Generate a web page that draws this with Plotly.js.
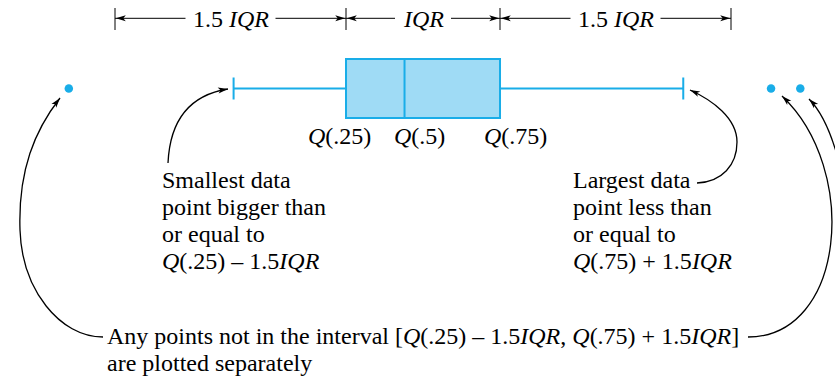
<!DOCTYPE html>
<html>
<head>
<meta charset="utf-8">
<script src="https://cdn.plot.ly/plotly-3.0.1.min.js"></script>
<style>
  html, body { margin: 0; padding: 0; background: #fff; }
  #chart { width: 835px; height: 382px; }
</style>
</head>
<body>
<div id="chart"></div>
<script>
// Anatomy of a box plot: quartiles, whisker ends and separately plotted points.

// ---- values ----
const quartileNames = ['<i>Q</i>(.25)', '<i>Q</i>(.5)', '<i>Q</i>(.75)'];
const quartiles = [20, 23.8, 30];          // Q(.25), Q(.5), Q(.75)
const whiskerEnds = [12.7, 41.9];          // smallest / largest point inside the fences
const outliers = [2.0, 47.6, 49.5];        // points outside the fences
const spanNames = ['1.5 <i>IQR</i>', '<i>IQR</i>', '1.5 <i>IQR</i>'];
const leftNote = ['Smallest data', 'point bigger than', 'or equal to',
                  '<i>Q</i>(.25) – 1.5<i>IQR</i>'];
const rightNote = ['Largest data', 'point less than', 'or equal to',
                   '<i>Q</i>(.75) + 1.5<i>IQR</i>'];
const bottomNote = ['Any points not in the interval [<i>Q</i>(.25) – 1.5<i>IQR</i>, <i>Q</i>(.75) + 1.5<i>IQR</i>]',
                    'are plotted separately'];

// ---- layout constants ----
const W = 835, H = 382;
const X_RANGE = [-2.468, 51.753];
const PX = W / (X_RANGE[1] - X_RANGE[0]);   // pixels per x unit
const ROW_Y = 88.5;                          // y axis runs in screen pixels, 0 at top
const BOX_H = 59;
const DIM_Y = 18.3;
const CYAN = '#19ade8', CYAN_FILL = '#9fdbf5', INK = '#000';
const FONT = { family: '"Liberation Serif", "Times New Roman", serif', size: 24, color: INK };

const iqr = quartiles[2] - quartiles[0];
const fences = [quartiles[0] - 1.5 * iqr, quartiles[0], quartiles[2], quartiles[2] + 1.5 * iqr];

// ---- helpers ----
// arrowhead path; s = pixels per unit of the x reference used
function head(tx, ty, dx, dy, s, len = 10, half = 3) {
  const n = Math.hypot(dx, dy); dx /= n; dy /= n;
  const px = tx * s;
  const bx = px - len * dx, by = ty - len * dy;
  const nx = -dy, ny = dx;
  const pts = [
    [px, ty],
    [bx + half * nx, by + half * ny],
    [bx + 0.25 * len * dx, by + 0.25 * len * dy],
    [bx - half * nx, by - half * ny]
  ];
  return 'M' + pts.map(p => (p[0] / s) + ',' + p[1]).join('L') + 'Z';
}
// cubic curve through pixel control points (M p0 C p1 p2 p3 C ...)
function curvePath(pts) {
  const f = p => (p[0] / W) + ',' + p[1];
  let d = 'M' + f(pts[0]);
  for (let i = 1; i < pts.length; i += 3) {
    d += 'C' + f(pts[i]) + ' ' + f(pts[i + 1]) + ' ' + f(pts[i + 2]);
  }
  return d;
}

const shapes = [];
const annotations = [];

// dimension line across the top
fences.forEach(f => shapes.push({
  type: 'line', xref: 'x', yref: 'y', x0: f, x1: f, y0: 8, y1: 30,
  line: { color: INK, width: 1 }
}));
const labelHalfPx = [45, 28, 45];
for (let i = 0; i < 3; i++) {
  const a = fences[i], b = fences[i + 1], mid = (a + b) / 2;
  const half = labelHalfPx[i] / PX;
  shapes.push({ type: 'line', xref: 'x', yref: 'y', x0: a, x1: mid - half, y0: DIM_Y, y1: DIM_Y,
                line: { color: INK, width: 1 } });
  shapes.push({ type: 'line', xref: 'x', yref: 'y', x0: mid + half, x1: b, y0: DIM_Y, y1: DIM_Y,
                line: { color: INK, width: 1 } });
  shapes.push({ type: 'path', xref: 'x', yref: 'y', path: head(a + 0.05, DIM_Y, -1, 0, PX),
                fillcolor: INK, line: { width: 0 } });
  shapes.push({ type: 'path', xref: 'x', yref: 'y', path: head(b - 0.05, DIM_Y, 1, 0, PX),
                fillcolor: INK, line: { width: 0 } });
  annotations.push({ xref: 'x', yref: 'y', x: mid, y: 19, text: spanNames[i],
                     showarrow: false, font: FONT, xanchor: 'center', yanchor: 'middle' });
}

// curved pointers (pixel control points)
const pointers = [
  [[103, 337], [60, 337], [22, 290], [20, 230], [18, 170], [35, 130], [60, 98]],
  [[168, 163], [170, 120], [190, 95], [228, 89]],
  [[697, 183], [722, 182], [737, 165], [737, 142], [737, 118], [712, 100], [690, 90]],
  [[748, 337], [845, 337], [860, 170], [782, 96]],
  [[850, 230], [845, 170], [830, 120], [809, 99]]
];
pointers.forEach(p => {
  shapes.push({ type: 'path', xref: 'paper', yref: 'y', path: curvePath(p),
                line: { color: INK, width: 1.3 } });
  const t = p[p.length - 1], c = p[p.length - 2];
  shapes.push({ type: 'path', xref: 'paper', yref: 'y',
                path: head(t[0] / W, t[1], t[0] - c[0], t[1] - c[1], W),
                fillcolor: INK, line: { width: 0 } });
});

// text blocks
const qLabelX = [339, 419, 515];
quartileNames.forEach((t, i) => annotations.push({
  xref: 'paper', yref: 'y', x: qLabelX[i] / W, y: 135.5, text: t,
  showarrow: false, font: FONT, xanchor: 'center', yanchor: 'middle'
}));
const noteLineY = [179.5, 206.7, 233.9, 261.1];
leftNote.forEach((t, i) => annotations.push({
  xref: 'paper', yref: 'y', x: 159.5 / W, y: noteLineY[i], text: t,
  showarrow: false, font: FONT, xanchor: 'left', yanchor: 'middle'
}));
rightNote.forEach((t, i) => annotations.push({
  xref: 'paper', yref: 'y', x: 571 / W, y: noteLineY[i], text: t,
  showarrow: false, font: FONT, xanchor: 'left', yanchor: 'middle'
}));
const bottomLineY = [335.5, 363];
bottomNote.forEach((t, i) => annotations.push({
  xref: 'paper', yref: 'y', x: 105 / W, y: bottomLineY[i], text: t,
  showarrow: false, font: FONT, xanchor: 'left', yanchor: 'middle'
}));

const traces = [
  {
    type: 'box', orientation: 'h', y: [ROW_Y],
    q1: [quartiles[0]], median: [quartiles[1]], q3: [quartiles[2]],
    lowerfence: [whiskerEnds[0]], upperfence: [whiskerEnds[1]],
    width: BOX_H, whiskerwidth: 0.37, boxpoints: false,
    fillcolor: CYAN_FILL, line: { color: CYAN, width: 2 },
    hoverinfo: 'skip', showlegend: false
  },
  {
    type: 'scatter', mode: 'markers', x: outliers, y: outliers.map(() => ROW_Y),
    marker: { size: 8.5, color: CYAN }, hoverinfo: 'skip', showlegend: false
  }
];

const layout = {
  width: W, height: H,
  margin: { l: 0, r: 0, t: 0, b: 0, pad: 0 },
  paper_bgcolor: '#fff', plot_bgcolor: '#fff',
  xaxis: { range: X_RANGE, visible: false, fixedrange: true },
  yaxis: { range: [H, 0], visible: false, fixedrange: true },
  shapes, annotations, showlegend: false
};

Plotly.newPlot('chart', traces, layout, { displayModeBar: false, staticPlot: true });
</script>
</body>
</html>
